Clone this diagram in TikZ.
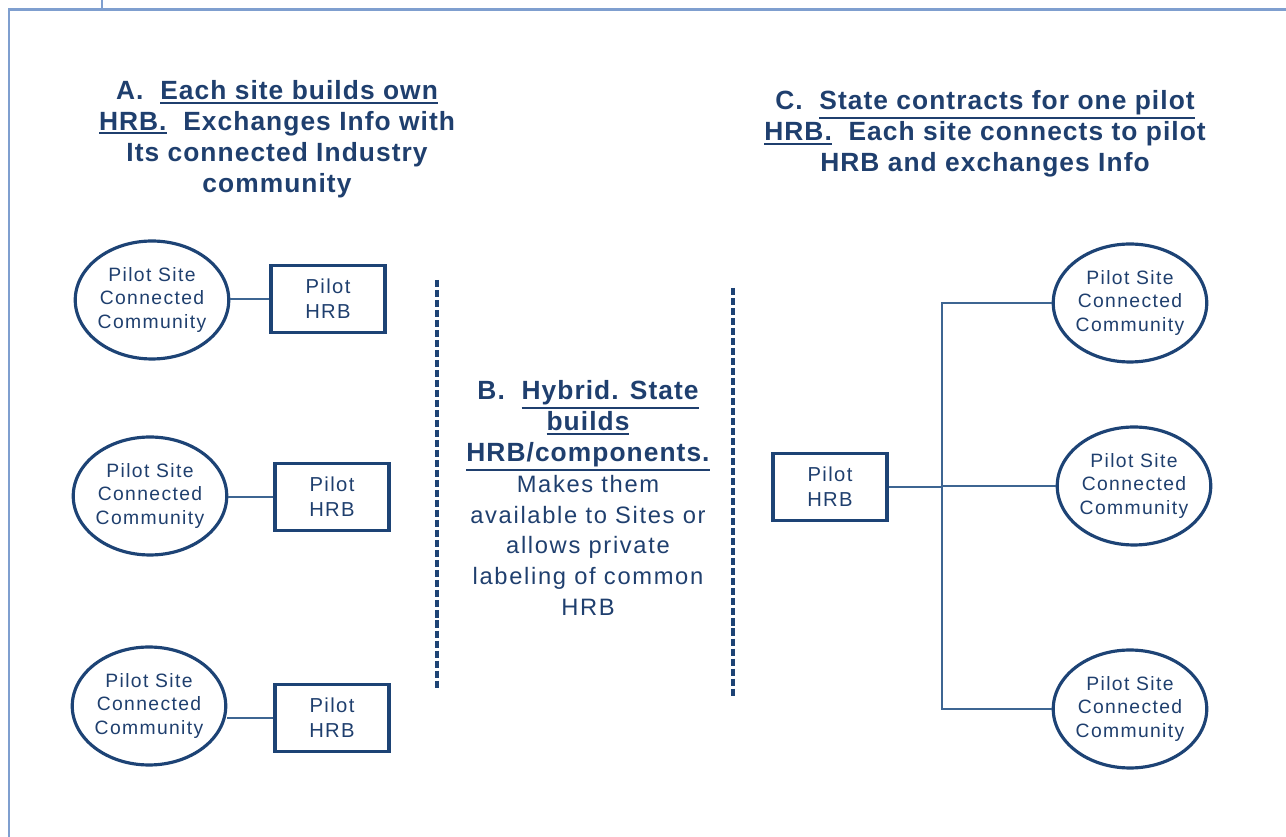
\documentclass[tikz,border=0pt]{standalone}
\usepackage{fontspec}
\setmainfont{Liberation Sans}[LetterSpace=4]
\newfontfamily\sitefont{Liberation Sans}[LetterSpace=7]
\usetikzlibrary{shapes.geometric}

% thick underline for the headings
\newcommand\headul[1]{\leavevmode\vtop{\hbox{#1}\kern1.2pt\hrule height 1.1pt}}
\newcommand\bodyfont{\sitefont\mdseries\fontsize{13.5}{17.6}\selectfont}

\begin{document}
\begin{tikzpicture}[
    x=0.02cm, y=-0.02cm,
    line join=miter
]

\definecolor{navytext}{HTML}{1F3F6E}
\definecolor{navyline}{HTML}{1D4375}
\definecolor{linkblue}{HTML}{3D6592}
\definecolor{frameblue}{HTML}{7F9FCF}

\tikzset{
    site/.style={
        ellipse,
        draw=navyline,
        line width=1.8pt,
        fill=white,
        minimum width=3cm,
        minimum height=2.36cm,
        inner sep=0pt,
        text=navytext,
        align=center,
        font=\sitefont\fontsize{11}{13.2}\selectfont
    },
    hrb/.style={
        rectangle,
        draw=navyline,
        line width=1.8pt,
        fill=white,
        minimum width=2.28cm,
        minimum height=1.34cm,
        text=navytext,
        align=center,
        font=\sitefont\fontsize{11.5}{14.2}\selectfont
    },
    conn/.style={draw=linkblue, line width=1.1pt},
    divider/.style={draw=navyline, line width=1.8pt, dash pattern=on 4pt off 1.7pt},
    heading/.style={
        text=navytext,
        align=center,
        font=\fontsize{15}{17.6}\selectfont\bfseries
    },
    framing/.style={draw=frameblue, line width=1.7pt}
}

\useasboundingbox (0,0) rectangle (1286,837);

% Frame
\draw[framing] (102,0) -- (102,10);
\draw[framing] (9,837) -- (9,10) -- (1286,10);

% Headings
\node[heading] (headA) at (277,139) {A.~~\headul{Each site builds own}\\ \headul{HRB.}~~Exchanges Info with\\ Its connected Industry\\ community};
\node[heading] (headC) at (985,134) {C.~~\headul{State contracts for one pilot}\\ \headul{HRB.}~~Each site connects to pilot\\ HRB and exchanges Info};
\node[heading] (headB) at (588,498) {B.~~\headul{Hybrid. State}\\ \headul{builds}\\ \headul{HRB/components.}\\ \bodyfont Makes them\\ \bodyfont available to Sites or\\ \bodyfont allows private\\ \bodyfont labeling of common\\ \bodyfont HRB};

% Option A: one HRB per site
\node[site] (siteA1) at (152,300) {Pilot Site\\ Connected\\ Community};
\node[site] (siteA2) at (150,496) {Pilot Site\\ Connected\\ Community};
\node[site] (siteA3) at (149,706) {Pilot Site\\ Connected\\ Community};
\node[hrb] (hrbA1) at (328,299) {Pilot\\ HRB};
\node[hrb] (hrbA2) at (332,497) {Pilot\\ HRB};
\node[hrb] (hrbA3) at (332,718) {Pilot\\ HRB};

\draw[conn] (hrbA1.west) -- (hrbA1.west -| siteA1.east);
\draw[conn] (hrbA2.west) -- (hrbA2.west -| siteA2.east);
\draw[conn] (hrbA3.west) -- (hrbA3.west -| siteA3.east);

% Dividers round option B
\draw[divider] (437,280) -- (437,688);
\draw[divider] (733,288) -- (733,697);

% Option C: one HRB for all sites
\node[hrb] (hrbC) at (830,487) {Pilot\\ HRB};
\node[site] (siteC1) at (1130,303) {Pilot Site\\ Connected\\ Community};
\node[site] (siteC2) at (1134,486) {Pilot Site\\ Connected\\ Community};
\node[site] (siteC3) at (1130,709) {Pilot Site\\ Connected\\ Community};
\coordinate (trunk) at (942,488);

\draw[conn] (hrbC.east) -- (hrbC.east -| trunk);
\draw[conn] (siteC1.west) -- (siteC1.west -| trunk) -- (siteC3.west -| trunk) -- (siteC3.west);
\draw[conn] (siteC2.west) -- (siteC2.west -| trunk);

\end{tikzpicture}
\end{document}
